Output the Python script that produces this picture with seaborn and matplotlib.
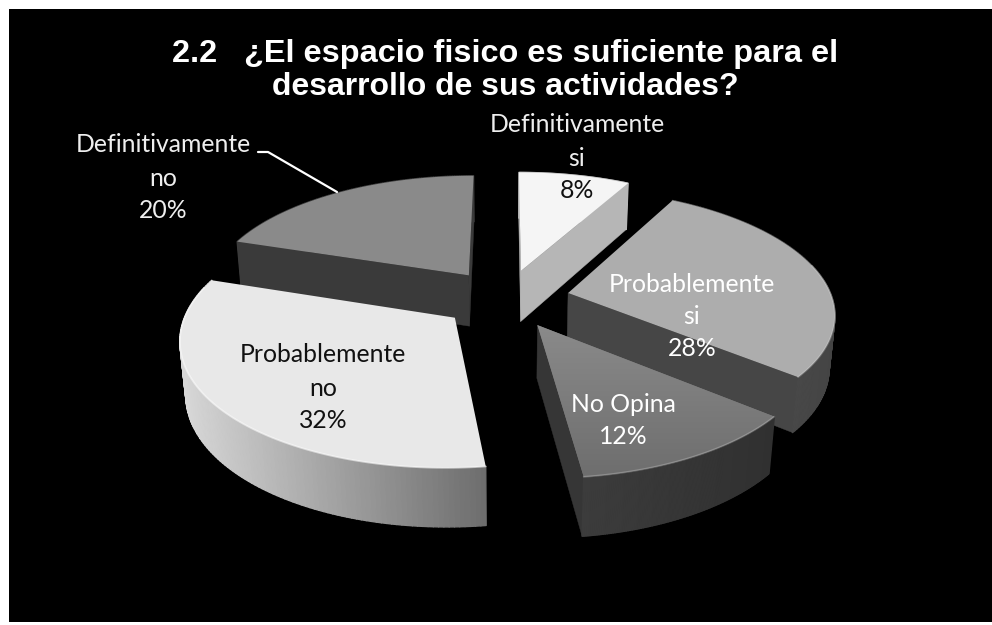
import numpy as np
import matplotlib
matplotlib.use("Agg")
import matplotlib.pyplot as plt
from matplotlib.collections import PolyCollection
from matplotlib.colors import LinearSegmentedColormap, to_rgb
from matplotlib.patches import Polygon
import seaborn as sns

# Survey shares, clockwise from twelve o'clock
categories = ["Definitivamente\nsi", "Probablemente\nsi", "No Opina", "Probablemente\nno", "Definitivamente\nno"]
shares = [8, 28, 12, 32, 20]
top_colors = ["#f5f5f5", "#adadad", "#7c7c7c", "#e8e8e8", "#8a8a8a"]
wall_colors = ["#b6b6b6", "#464646", "#363636", "#8a8a8a", "#3a3a3a"]
rim_left = ["#b6b6b6", "#565656", "#3c3c3c", "#d8d8d8", "#3a3a3a"]
rim_right = ["#b6b6b6", "#444444", "#303030", "#6e6e6e", "#3a3a3a"]

# Camera and disc geometry, in units of the disc radius
ELEV = np.deg2rad(27.3)
DIST = 5.89
FOCAL = 1555.0
CX, CY = 505.5, 298.5
EXPLODE = 0.243
THICK = 0.225


def project(x, y, z):
    depth = DIST + y * np.cos(ELEV) - z * np.sin(ELEV)
    sx = CX + FOCAL * x / depth
    sy = CY - FOCAL * (y * np.sin(ELEV) + z * np.cos(ELEV)) / depth
    return np.column_stack([sx, sy])


def signed_area(p):
    x, y = p[:, 0], p[:, 1]
    return 0.5 * np.sum(x * np.roll(y, -1) - np.roll(x, -1) * y)


sns.set_theme(style="white", rc={"figure.facecolor": "white", "axes.facecolor": "black"})
fig = plt.figure(figsize=(9.92, 6.25), dpi=100)
ax = fig.add_axes([0, 0, 1, 1])
ax.set_axis_off()
ax.add_patch(plt.Rectangle((9, 9), 983, 613, fc="black", ec="none", zorder=0))

edges = np.deg2rad(np.concatenate([[0], np.cumsum(shares)]) * 3.6)
spans = list(zip(edges[:-1], edges[1:]))

# Paint from the back of the disc to the front
order = [4, 0, 1, 3, 2]
z = 1
for i in order:
    a0, a1 = spans[i]
    mid = (a0 + a1) / 2
    ox, oy = EXPLODE * np.sin(mid), EXPLODE * np.cos(mid)
    th = np.linspace(a0, a1, 120)
    rx, ry = ox + np.sin(th), oy + np.cos(th)
    apex_top = project(np.array([ox]), np.array([oy]), np.array([0.0]))
    apex_bot = project(np.array([ox]), np.array([oy]), np.array([-THICK]))
    arc_top = project(rx, ry, np.zeros_like(rx))
    arc_bot = project(rx, ry, np.full_like(rx, -THICK))

    # Flat cut faces of the wedge, skipped when they face away from the camera
    for end, sign in ((0, 1), (-1, -1)):
        quad = np.array([apex_top[0], arc_top[end], arc_bot[end], apex_bot[0]])
        if sign * signed_area(quad) < 0:
            ax.add_patch(Polygon(quad, fc=wall_colors[i], ec=wall_colors[i], lw=0.3, zorder=z))
    z += 1

    # Curved outer wall as thin shaded strips
    quads, shades = [], []
    c_l, c_r = np.array(to_rgb(rim_left[i])), np.array(to_rgb(rim_right[i]))
    xmin, xmax = arc_bot[:, 0].min(), arc_bot[:, 0].max()
    for k in range(len(th) - 1):
        quads.append([arc_top[k], arc_top[k + 1], arc_bot[k + 1], arc_bot[k]])
        t = (arc_bot[k, 0] - xmin) / max(xmax - xmin, 1)
        shades.append(c_l + (c_r - c_l) * t)
    ax.add_collection(PolyCollection(quads, facecolors=shades, edgecolors=shades, linewidths=1.0, zorder=z))
    z += 1

    # Top face with a soft bevel along the rim
    face = np.vstack([apex_top, arc_top])
    patch = Polygon(face, fc=top_colors[i], ec="none", zorder=z)
    ax.add_patch(patch)
    if categories[i] == "No Opina":
        # This face darkens slightly toward the viewer
        ramp = LinearSegmentedColormap.from_list("face", ["#8a8a8a", "#6e6e6e"])
        img = ax.imshow(np.linspace(0, 1, 64)[:, None], cmap=ramp, aspect="auto", zorder=z,
                        extent=(face[:, 0].min(), face[:, 0].max(), face[:, 1].max(), face[:, 1].min()))
        img.set_clip_path(patch)
    z += 1
    front = ry < oy + 0.25
    ax.plot(arc_top[front, 0], arc_top[front, 1], color="white", alpha=0.55 if i == 3 else 0.22, lw=1.3, zorder=z)
    z += 1

ax.set_xlim(0, 992)
ax.set_ylim(625, 0)

# Callout for the label that sits outside its slice
ax.plot([258, 268, 337], [152, 152, 192], color="white", lw=1.6, zorder=z)

label_font = ["Lato", "DejaVu Sans"]
label_size = 17.8
label_anchor = [(577, [125, 159, 191]), (692, [284, 316, 349]), (623, [404, 437]),
                (323, [355, 388, 420]), (163, [145, 178, 211])]
label_color = [["#eeeeee", "#eeeeee", "#111111"], ["white"] * 3, ["white"] * 2,
               ["#111111"] * 3, ["#eeeeee"] * 3]
for name, share, (x, ys), cols in zip(categories, shares, label_anchor, label_color):
    for line, y, col in zip(name.split("\n") + [f"{share}%"], ys, cols):
        ax.text(x, y, line, ha="center", va="center", fontsize=label_size, color=col,
                family=label_font, zorder=z + 1)

title_font = ["Liberation Sans", "DejaVu Sans"]
ax.text(505, 54, "2.2   ¿El espacio fisico es suficiente para el", ha="center", va="center",
        fontsize=23.4, fontweight="bold", color="white", family=title_font, zorder=z + 1)
ax.text(505, 87, "desarrollo de sus actividades?", ha="center", va="center",
        fontsize=23, fontweight="bold", color="white", family=title_font, zorder=z + 1)

fig.savefig("out.png", dpi=100, facecolor="white")
